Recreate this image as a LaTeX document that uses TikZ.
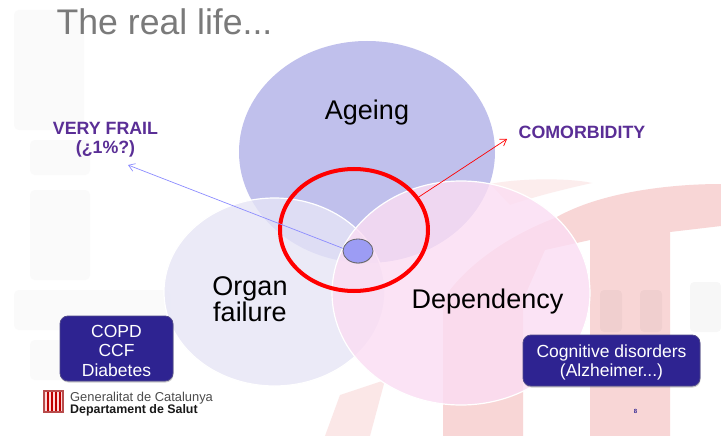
\documentclass[tikz,border=0pt]{standalone}
\usepackage{fontspec}
\setmainfont{Liberation Sans}
\usetikzlibrary{shapes.geometric,arrows.meta,shadows}
\definecolor{boxblue}{HTML}{2E2391}
\definecolor{capt}{HTML}{5A2E96}
\definecolor{bgred}{HTML}{F8D6D6}
\definecolor{bggray}{HTML}{FAFAFA}
\definecolor{ageingc}{HTML}{C0C0EC}
\definecolor{organc}{HTML}{E6E5F6}
\definecolor{depc}{HTML}{FBDDF3}
\definecolor{hubc}{HTML}{9C9CF4}
\tikzset{
  lbl/.style={font=\fontsize{27}{23}\selectfont,align=center,text=black,inner sep=0pt},
  venn/.style={ellipse,inner sep=0pt},
  tag/.style={rounded corners=8pt,fill=boxblue,draw=boxblue!60!gray,line width=0.8pt,text=white,align=center,
    font=\fontsize{17.5}{19.5}\selectfont,inner sep=0pt,drop shadow={shadow xshift=0.5pt,shadow yshift=-1.5pt,opacity=.4}},
  capsword/.style={font=\bfseries\fontsize{17.8}{19}\selectfont,text=capt,align=center,inner sep=0pt},
  bgshape/.style={fill=bgred,draw=none},
  blur/.style={fill=bggray,draw=none,rounded corners=5pt},
  ghost/.style={fill=black,fill opacity=.03,draw=none,rounded corners=4pt},
}
\begin{document}
\begin{tikzpicture}[x=1pt,y=-1pt]
\useasboundingbox (0,0) rectangle (721,436);
\fill[white] (0,0) rectangle (721,436);
% faint background
\fill[blur] (14,10) rectangle (84,130);
\fill[blur] (30,140) rectangle (90,175);
\fill[blur] (30,190) rectangle (90,280);
\fill[blur] (14,290) rectangle (170,330);
\fill[blur] (30,340) rectangle (90,380);
\fill[bgred!45!white] (490,184) .. controls (520,178) and (570,178) .. (592,183) .. controls (560,190) and (530,198) .. (510,205) -- cycle;
\fill[bgshape] (555,218) .. controls (600,192) and (670,184) .. (721,184) -- (721,226) -- (670,232) -- (670,436) -- (590,436) -- (590,240) -- (545,250) -- (523,300) -- (523,436) -- (443,436) -- (443,300) .. controls (465,265) and (510,235) .. cycle;
\fill[bgred!60!white] (325,436) -- (340,395) -- (385,380) -- (370,436) -- cycle;
\fill[ghost] (600,290) rectangle (622,332);
\fill[ghost] (640,290) rectangle (662,332);
\fill[ghost] (690,282) rectangle (721,332);
% venn
\node[venn,fill=ageingc,minimum width=256pt,minimum height=222pt] (ageing) at (367,152) {};
\node[venn,fill=organc,fill opacity=.8,draw=white,line width=1.2pt,minimum width=221pt,minimum height=188pt] (organ) at (274.5,292) {};
\node[venn,fill=depc,fill opacity=.8,draw=white,line width=1.2pt,minimum width=258pt,minimum height=224pt] (dep) at (461,293) {};
\node[lbl] at (367,113) {Ageing};
\node[lbl] at (250,299.5) {Organ\\failure};
\node[lbl] at (487.5,301.5) {Dependency};
% title
\node[font=\fontsize{35.6}{38}\selectfont,text=black!52,inner sep=0pt,anchor=west] at (56.5,22) {The real life...};
% captions
\node[capsword] (frail) at (105.5,140) {VERY FRAIL\\(¿1\%?)};
\node[capsword] (comor) at (582,132) {COMORBIDITY};
% marks
\node[venn,minimum width=148pt,minimum height=122pt,draw=red,line width=4pt] (ring) at (354,230) {};
\node[venn,fill=hubc,draw=gray!80!black,line width=0.8pt,minimum width=30pt,minimum height=24pt,drop shadow={shadow xshift=0.3pt,shadow yshift=-0.8pt,opacity=.35}] (hub) at (358,251) {};
\coordinate (frailtip) at (128,165);
\coordinate (comortip) at (507,139);
\draw[-{Straight Barb[length=6pt,width=8pt]},draw=blue!45!white,line width=.7pt] (hub.170) -- (frailtip);
\draw[-{Straight Barb[length=6pt,width=8pt]},draw=red,line width=.7pt] (ring.27) -- (comortip);
% boxes
\node[tag,minimum width=113pt,minimum height=65pt] (left) at (116.5,348.5) {\rule{0pt}{17pt}COPD\\CCF\\Diabetes};
\node[tag,minimum width=177pt,minimum height=51pt] (right) at (611.5,360.5) {\rule{0pt}{17pt}Cognitive disorders\\(Alzheimer...)};
\node[font=\bfseries\fontsize{6}{7}\selectfont,text=boxblue,inner sep=0pt] at (635.5,411) {8};
% logo
\fill[red!60!black!70] (43,390) rectangle (64,413);
\fill[white!85!red] (45,392) rectangle (62,411);
\foreach \sx in {47.2,51,54.8,58.6}{\fill[red!75!black] (\sx,392) rectangle ++(1.9,19);}
\node[font=\fontsize{12.9}{14}\selectfont,text=black!70,inner sep=0pt,anchor=base west] at (70,401) {Generalitat de Catalunya};
\node[font=\bfseries\fontsize{12.4}{14}\selectfont,text=black!90,inner sep=0pt,anchor=base west] at (70,413) {Departament de Salut};
\end{tikzpicture}
\end{document}
